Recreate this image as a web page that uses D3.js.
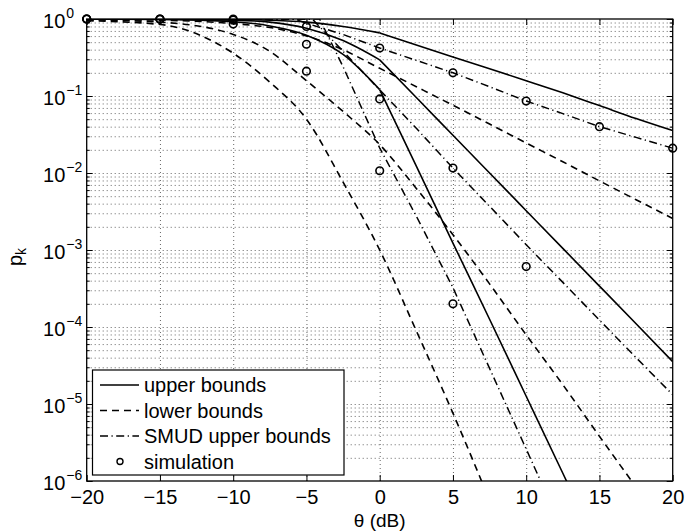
<!DOCTYPE html>
<html>
<head>
<meta charset="utf-8">
<script src="https://cdnjs.cloudflare.com/ajax/libs/d3/7.8.5/d3.min.js"></script>
<style>
body { margin: 0; background: #fff; }
text { font-family: "Liberation Sans", Arial, sans-serif; fill: #000; }
</style>
</head>
<body>
<svg width="686" height="531"></svg>
<script>
// theta (dB) grid used by the bound curves
var theta = [-20, -15, -10, -7.5, -5, -2.5, 0, 2.5, 5, 7.5, 10, 12.5, 15, 17.5, 20];

// upper bounds (solid), three cases
var upperA = [1, 1, 0.991, 0.966, 0.912, 0.80, 0.66, 0.46, 0.32, 0.226, 0.158, 0.11, 0.075, 0.051, 0.0355];
var upperB = [1, 0.995, 0.966, 0.912, 0.76, 0.525, 0.295, 0.0955, 0.0309, 0.01, 3.24e-3, 1.05e-3, 3.4e-4, 1.1e-4, 3.55e-5];
var upperC = [1, 0.989, 0.923, 0.813, 0.617, 0.347, 0.121, 0.0123, 1.23e-3, 1.26e-4, 1.26e-5, 1.26e-6, 1.26e-7, null, null];

// lower bounds (dashed)
var lowerA = [0.989, 0.966, 0.871, 0.776, 0.603, 0.398, 0.229, 0.132, 0.0759, 0.0432, 0.0245, 0.014, 7.9e-3, 4.5e-3, 2.57e-3];
var lowerB = [0.977, 0.912, 0.631, 0.38, 0.158, 0.063, 0.0234, 6.3e-3, 1.58e-3, 3.63e-4, 7.9e-5, 1.78e-5, 3.8e-6, 8.3e-7, 1.8e-7];
var lowerC = [0.95, 0.85, 0.359, 0.151, 0.050, 7.6e-3, 1.0e-3, 8.9e-5, 7.6e-6, 5.6e-7, null, null, null, null, null];

// SMUD upper bounds (dash-dot), each with its own theta points
var smudThetaA = [-20, -5.8, -5, -2.5, 0, 2.5, 5, 7.5, 10, 12.5, 15, 17.5, 20];
var smudA = [1, 1, 0.88, 0.63, 0.42, 0.29, 0.20, 0.132, 0.086, 0.059, 0.040, 0.029, 0.021];
var smudThetaB = [-20, -4.6, -2.5, 0, 2.5, 5, 7.5, 10, 12.5, 15, 17.5, 20];
var smudB = [1, 1, 0.38, 0.12, 0.038, 0.0116, 3.7e-3, 1.17e-3, 3.8e-4, 1.23e-4, 4.0e-5, 1.32e-5];
var smudThetaC = [-20, -4.1, -2.5, 0, 2.5, 5, 7.5, 10, 12.5];
var smudC = [1, 1, 0.24, 0.0211, 2.75e-3, 3.24e-4, 2.9e-5, 2.6e-6, 2.3e-7];

// simulation (circles)
var simTheta = [-20, -15, -10, -5, 0, 5, 10, 15, 20];
var simA = [1, 1, 1, 0.80, 0.42, 0.20, 0.086, 0.040, 0.021];
var simB = [1, 1, 0.97, 0.47, 0.0915, 0.0116, 6.1e-4, null, null];
var simC = [1, 0.99, 0.86, 0.21, 0.0107, 2.0e-4, null, null, null];

var xTicks = [-20, -15, -10, -5, 0, 5, 10, 15, 20];
var legendLabels = ['upper bounds', 'lower bounds', 'SMUD upper bounds', 'simulation'];

var L = 86.7, R = 672.7, T = 19, B = 481;
var svg = d3.select('svg');
svg.append('rect').attr('width', 686).attr('height', 531).attr('fill', '#fff');

var x = d3.scaleLinear().domain([-20, 20]).range([L, R]);
var y = d3.scaleLog().domain([1e-6, 1]).range([B, T]);

var yAll = y.ticks();
var yMajor = yAll.filter(function(v) { return Math.abs(Math.log10(v) - Math.round(Math.log10(v))) < 1e-9; });
var yMinor = yAll.filter(function(v) { return yMajor.indexOf(v) < 0; });

// grid
svg.append('g').attr('transform', 'translate(' + L + ',0)')
  .call(d3.axisLeft(y).tickValues(yAll.filter(function(v) { return v > 1.01e-6 && v < 0.99; }))
    .tickSize(-(R - L)).tickFormat(''))
  .call(function(g) { g.select('.domain').remove(); })
  .selectAll('line').attr('stroke', '#666').attr('stroke-width', 1).attr('stroke-dasharray', '1,3');
svg.append('g').attr('transform', 'translate(0,' + B + ')')
  .call(d3.axisBottom(x).tickValues(xTicks.slice(1, -1)).tickSize(-(B - T)).tickFormat(''))
  .call(function(g) { g.select('.domain').remove(); })
  .selectAll('line').attr('stroke', '#666').attr('stroke-width', 1).attr('stroke-dasharray', '1,3');

svg.append('clipPath').attr('id', 'clip')
  .append('rect').attr('x', L).attr('y', T).attr('width', R - L).attr('height', B - T);
var plot = svg.append('g').attr('clip-path', 'url(#clip)');

var line = d3.line()
  .defined(function(d) { return d[1] != null; })
  .x(function(d) { return x(d[0]); })
  .y(function(d) { return y(d[1]); });

function pairs(xs, ys) { return xs.map(function(v, i) { return [v, ys[i]]; }); }

var dashed = '7,5', dashDot = '8,3.5,1.2,3.5';

// upper bounds: two smooth pieces with a kink at 0 dB
[upperA, upperB, upperC].forEach(function(s) {
  var p = pairs(theta, s);
  var k = theta.indexOf(0);
  [p.slice(0, k + 1), p.slice(k)].forEach(function(piece) {
    plot.append('path').attr('d', line.curve(d3.curveMonotoneX)(piece))
      .attr('fill', 'none').attr('stroke', '#000').attr('stroke-width', 1.6);
  });
});

[lowerA, lowerB, lowerC].forEach(function(s) {
  plot.append('path').attr('d', line.curve(d3.curveMonotoneX)(pairs(theta, s)))
    .attr('fill', 'none').attr('stroke', '#000').attr('stroke-width', 1.6)
    .attr('stroke-dasharray', dashed);
});

[[smudThetaA, smudA], [smudThetaB, smudB], [smudThetaC, smudC]].forEach(function(s) {
  plot.append('path').attr('d', line.curve(d3.curveLinear)(pairs(s[0], s[1])))
    .attr('fill', 'none').attr('stroke', '#000').attr('stroke-width', 1.5)
    .attr('stroke-dasharray', dashDot);
});

[simA, simB, simC].forEach(function(s) {
  svg.append('g').selectAll('circle')
    .data(pairs(simTheta, s).filter(function(d) { return d[1] != null; }))
    .enter().append('circle')
    .attr('cx', function(d) { return x(d[0]); })
    .attr('cy', function(d) { return y(d[1]); })
    .attr('r', 3.8).attr('fill', 'none').attr('stroke', '#000').attr('stroke-width', 1.6);
});

// box
svg.append('rect').attr('x', L).attr('y', T).attr('width', R - L).attr('height', B - T)
  .attr('fill', 'none').attr('stroke', '#000').attr('stroke-width', 1.3);

function noDomain(g) { g.select('.domain').remove(); g.selectAll('line').attr('stroke', '#000'); }

// ticks, inside on all sides
svg.append('g').attr('transform', 'translate(' + L + ',0)')
  .call(d3.axisLeft(y).tickValues(yMinor).tickSize(-3).tickFormat('')).call(noDomain);
svg.append('g').attr('transform', 'translate(' + R + ',0)')
  .call(d3.axisRight(y).tickValues(yMinor).tickSize(-3).tickFormat('')).call(noDomain);
svg.append('g').attr('transform', 'translate(' + R + ',0)')
  .call(d3.axisRight(y).tickValues(yMajor).tickSize(-6).tickFormat('')).call(noDomain);
svg.append('g').attr('transform', 'translate(0,' + T + ')')
  .call(d3.axisTop(x).tickValues(xTicks).tickSize(-6).tickFormat('')).call(noDomain);

var yAxis = svg.append('g').attr('transform', 'translate(' + L + ',0)')
  .call(d3.axisLeft(y).tickValues(yMajor).tickSize(-6).tickFormat('')).call(noDomain);
yAxis.selectAll('.tick').each(function(v) {
  var t = d3.select(this).append('text')
    .attr('x', 43 - L).attr('y', 8).attr('text-anchor', 'start').style('font-size', '20px');
  t.append('tspan').text('10');
  var e = Math.round(Math.log10(v));
  t.append('tspan').attr('dx', 1).attr('dy', -10).style('font-size', '14px')
    .text(e < 0 ? '\u2212' + (-e) : e);
});

var xAxis = svg.append('g').attr('transform', 'translate(0,' + B + ')')
  .call(d3.axisBottom(x).tickValues(xTicks).tickSize(-6)
    .tickFormat(function(d) { return d < 0 ? '\u2212' + (-d) : d; }))
  .call(noDomain);
xAxis.selectAll('text').attr('y', 23).attr('dy', 0).style('font-size', '20px');

// axis labels
svg.append('text').attr('x', (L + R) / 2).attr('y', 527).attr('text-anchor', 'middle')
  .style('font-size', '19px').text('\u03b8 (dB)');
var yl = svg.append('text').attr('transform', 'translate(22,257) rotate(-90)')
  .attr('text-anchor', 'middle').style('font-size', '20px');
yl.append('tspan').text('p');
yl.append('tspan').attr('dy', 4).style('font-size', '14px').text('k');

// legend
var lg = svg.append('g');
lg.append('rect').attr('x', 92.5).attr('y', 370).attr('width', 251.5).attr('height', 105)
  .attr('fill', '#fff').attr('stroke', '#000').attr('stroke-width', 1.2);
var styles = [null, dashed, dashDot];
legendLabels.forEach(function(lab, i) {
  var ly = 385 + i * 25.5;
  if (i < 3) {
    lg.append('line').attr('x1', 100).attr('x2', 139).attr('y1', ly).attr('y2', ly)
      .attr('stroke', '#000').attr('stroke-width', 1.6)
      .attr('stroke-dasharray', styles[i]);
  } else {
    lg.append('circle').attr('cx', 120).attr('cy', ly).attr('r', 3)
      .attr('fill', 'none').attr('stroke', '#000').attr('stroke-width', 1.4);
  }
  lg.append('text').attr('x', 144).attr('y', ly + 7).style('font-size', '20px').text(lab);
});
</script>
</body>
</html>
